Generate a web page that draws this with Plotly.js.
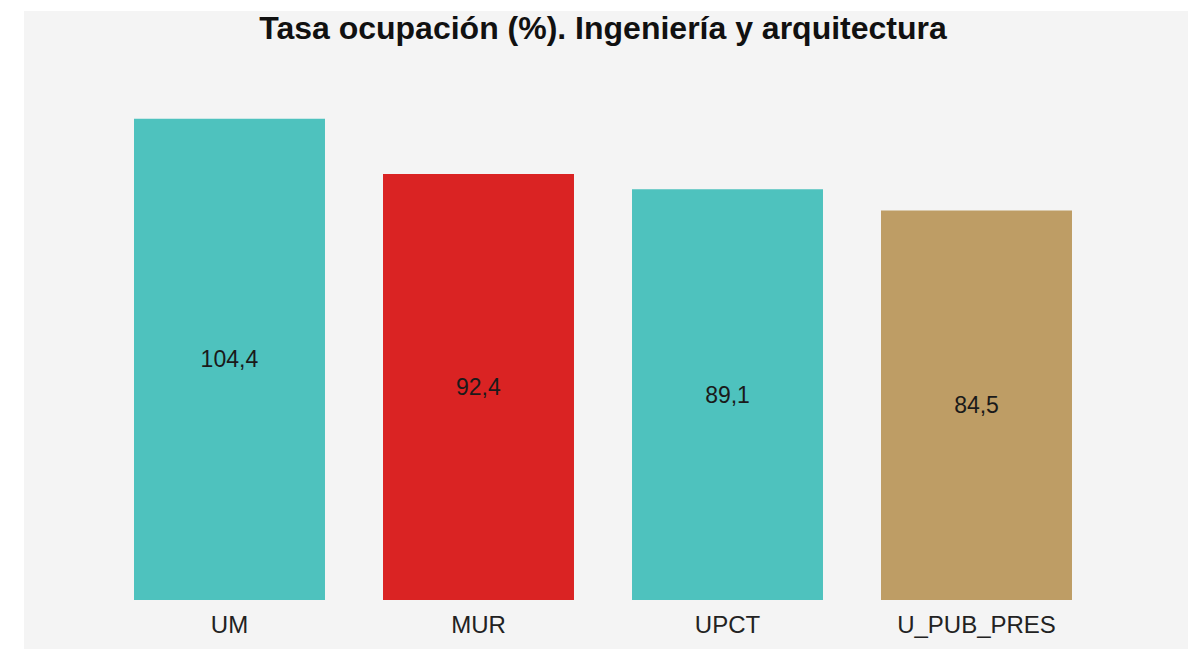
<!DOCTYPE html>
<html>
<head>
<meta charset="utf-8">
<script src="https://cdn.plot.ly/plotly-3.0.1.min.js"></script>
<style>
  html, body { margin: 0; padding: 0; background: #ffffff; width: 1188px; height: 649px; overflow: hidden; }
  #chart { position: absolute; left: 24px; top: 11px; width: 1164px; height: 638px; }
</style>
</head>
<body>
<div id="chart"></div>
<script>
const categories = ["UM", "MUR", "UPCT", "U_PUB_PRES"];
const values = [104.4, 92.4, 89.1, 84.5];
const labels = ["104,4", "92,4", "89,1", "84,5"];
const barColors = ["#4EC2BE", "#DA2323", "#4EC2BE", "#BE9D65"];
const chartTitle = "Tasa ocupación (%). Ingeniería y arquitectura";

const FONT = "Liberation Sans, Arial, Helvetica, sans-serif";

const trace = {
  type: "bar",
  x: categories,
  y: values,
  text: labels,
  textposition: "inside",
  insidetextanchor: "middle",
  textangle: 0,
  constraintext: "none",
  textfont: { family: FONT, size: 23, color: "#1a1a1a" },
  marker: { color: barColors, line: { width: 0 } },
  hoverinfo: "x+y"
};

const layout = {
  width: 1164,
  height: 638,
  paper_bgcolor: "#f4f4f4",
  plot_bgcolor: "#f4f4f4",
  margin: { l: 81, r: 87, t: 82, b: 49, pad: 0 },
  bargap: 0.233,
  showlegend: false,
  title: {
    text: "<b>" + chartTitle + "</b>",
    x: 0.5,
    xanchor: "center",
    xref: "paper",
    y: 1 - 17 / 638,
    yref: "container",
    yanchor: "middle",
    font: { family: FONT, size: 32, color: "#111111" }
  },
  xaxis: {
    type: "category",
    showgrid: false,
    zeroline: false,
    showline: false,
    ticks: "",
    ticklabelstandoff: 8,
    tickfont: { family: FONT, size: 24, color: "#222222" },
    fixedrange: true
  },
  yaxis: {
    range: [0, 110],
    showgrid: false,
    zeroline: false,
    showline: false,
    showticklabels: false,
    ticks: "",
    fixedrange: true
  },
  font: { family: FONT }
};

Plotly.newPlot("chart", [trace], layout, { displayModeBar: false, staticPlot: true });
</script>
</body>
</html>
